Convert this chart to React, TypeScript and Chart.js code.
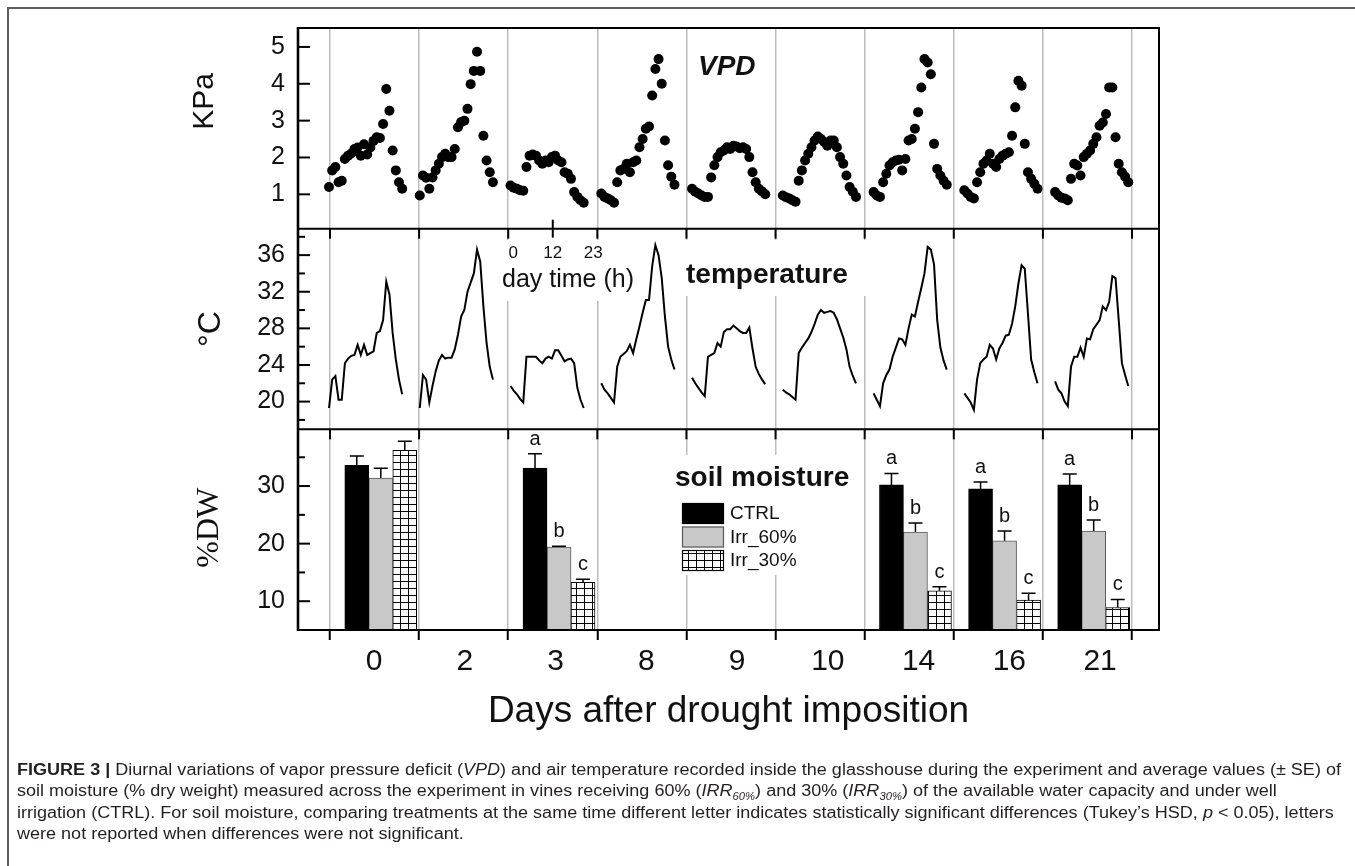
import React, { useEffect, useRef } from 'react';
import { Chart, registerables } from 'chart.js';

Chart.register(...registerables);

// ---------------- data ----------------
const DAY_LABELS = ['0', '2', '3', '8', '9', '10', '14', '16', '21'];

// hourly VPD (kPa), hours 0..23 for each day
const VPD_DAY_0 = [1.2, 1.65, 1.74, 1.33, 1.37, 1.96, 2.05, 2.11, 2.23, 2.27, 2.05, 2.36, 2.08, 2.27, 2.45, 2.55, 2.53, 2.91, 3.86, 3.27, 2.19, 1.65, 1.33, 1.15];
const VPD_DAY_2 = [0.97, 1.51, 1.45, 1.15, 1.46, 1.65, 1.83, 2.01, 2.1, 2.01, 2.01, 2.23, 2.82, 2.96, 3.0, 3.32, 3.99, 4.35, 4.87, 4.35, 2.59, 1.92, 1.6, 1.33];
const VPD_DAY_3 = [1.24, 1.18, 1.15, 1.11, 1.1, 1.74, 2.05, 2.08, 2.05, 1.92, 1.83, 1.92, 1.87, 2.01, 2.05, 1.92, 1.87, 1.6, 1.56, 1.42, 1.06, 0.93, 0.84, 0.77];
const VPD_DAY_8 = [1.02, 0.93, 0.89, 0.84, 0.77, 1.33, 1.65, 1.69, 1.83, 1.6, 1.87, 1.92, 2.28, 2.5, 2.78, 2.84, 3.68, 4.4, 4.67, 4.0, 2.46, 1.79, 1.48, 1.26];
const VPD_DAY_9 = [1.15, 1.07, 1.02, 0.97, 0.93, 0.93, 1.46, 1.79, 2.01, 2.14, 2.19, 2.28, 2.23, 2.32, 2.3, 2.25, 2.28, 2.23, 2.01, 1.6, 1.33, 1.15, 1.08, 1.0];
const VPD_DAY_10 = [0.97, 0.92, 0.89, 0.84, 0.8, 1.37, 1.65, 1.92, 2.1, 2.28, 2.46, 2.57, 2.5, 2.42, 2.32, 2.46, 2.46, 2.28, 2.01, 1.83, 1.51, 1.2, 1.07, 0.93];
const VPD_DAY_14 = [1.06, 0.97, 0.93, 1.33, 1.56, 1.78, 1.87, 1.92, 1.94, 1.65, 1.96, 2.46, 2.5, 2.78, 3.23, 3.9, 4.67, 4.58, 4.26, 2.37, 1.69, 1.51, 1.37, 1.26];
const VPD_DAY_16 = [1.11, 1.02, 0.93, 0.89, 1.33, 1.6, 1.83, 1.92, 2.1, 1.83, 1.74, 1.96, 2.05, 2.1, 2.14, 2.59, 3.36, 4.08, 3.95, 2.37, 1.6, 1.42, 1.29, 1.15];
const VPD_DAY_21 = [1.06, 0.97, 0.91, 0.89, 0.84, 1.42, 1.83, 1.78, 1.51, 2.01, 2.1, 2.19, 2.37, 2.55, 2.86, 2.95, 3.18, 3.9, 3.9, 2.55, 1.83, 1.6, 1.48, 1.33];
const VPD_SERIES = [VPD_DAY_0, VPD_DAY_2, VPD_DAY_3, VPD_DAY_8, VPD_DAY_9, VPD_DAY_10, VPD_DAY_14, VPD_DAY_16, VPD_DAY_21];

// hourly air temperature (°C)
const TEMP_DAY_0 = [19.3, 22.4, 22.8, 20.2, 20.2, 24.2, 24.7, 25.0, 25.1, 26.2, 25.1, 26.2, 25.1, 25.3, 25.5, 27.5, 27.7, 28.9, 33.1, 31.7, 27.5, 24.6, 22.4, 20.8];
const TEMP_DAY_2 = [19.3, 22.9, 22.4, 19.9, 21.7, 23.3, 24.5, 25.1, 24.7, 24.8, 24.8, 25.7, 27.3, 29.3, 30.0, 32.0, 33.0, 34.0, 36.6, 35.3, 30.4, 26.4, 23.8, 22.4];
const TEMP_DAY_3 = [21.7, 21.2, 20.8, 20.3, 19.9, 24.9, 24.9, 24.9, 24.9, 24.5, 24.2, 24.7, 24.9, 24.7, 25.6, 25.6, 25.0, 24.4, 24.6, 24.7, 24.2, 21.5, 20.2, 19.3];
const TEMP_DAY_8 = [22.0, 21.3, 20.9, 20.4, 19.9, 23.8, 24.9, 25.2, 25.5, 26.2, 25.3, 26.8, 28.2, 29.7, 31.1, 31.1, 34.8, 37.1, 36.0, 33.5, 29.3, 26.0, 24.6, 23.5];
const TEMP_DAY_9 = [22.6, 22.0, 21.5, 21.0, 20.6, 24.9, 25.1, 25.3, 26.4, 26.0, 27.6, 27.9, 27.9, 28.3, 28.0, 27.7, 27.5, 27.5, 28.1, 25.8, 23.8, 23.0, 22.4, 21.9];
const TEMP_DAY_10 = [21.3, 21.0, 20.8, 20.5, 20.2, 25.3, 25.9, 26.4, 26.9, 27.6, 28.5, 29.5, 30.0, 29.7, 29.8, 29.9, 29.7, 29.0, 28.0, 27.0, 25.7, 23.8, 22.8, 22.0];
const TEMP_DAY_14 = [20.9, 20.2, 19.5, 22.0, 22.9, 23.5, 24.9, 25.9, 26.9, 26.8, 26.2, 28.0, 29.5, 29.3, 30.9, 32.4, 34.0, 36.9, 36.6, 35.0, 28.9, 25.9, 24.5, 23.5];
const TEMP_DAY_16 = [20.9, 20.4, 19.9, 19.1, 22.4, 24.2, 24.6, 24.9, 26.2, 25.8, 24.6, 25.8, 26.4, 27.2, 27.3, 28.5, 30.4, 32.9, 34.9, 34.5, 29.6, 24.6, 23.2, 22.0];
const TEMP_DAY_21 = [22.2, 21.3, 20.9, 20.0, 19.5, 23.8, 24.9, 24.9, 25.9, 24.9, 26.9, 26.8, 27.9, 28.4, 28.9, 30.4, 30.0, 30.9, 33.7, 33.5, 28.9, 24.2, 22.9, 21.7];
const TEMP_SERIES = [TEMP_DAY_0, TEMP_DAY_2, TEMP_DAY_3, TEMP_DAY_8, TEMP_DAY_9, TEMP_DAY_10, TEMP_DAY_14, TEMP_DAY_16, TEMP_DAY_21];

// soil moisture (% DW), mean and SE, per day (null = not measured)
const SOIL_CTRL = [33.6, null, 33.1, null, null, null, 30.2, 29.5, 30.2];
const SOIL_CTRL_SE = [1.6, null, 2.5, null, null, null, 2.0, 1.2, 1.9];
const SOIL_IRR60 = [31.4, null, 19.4, null, null, null, 22.0, 20.5, 22.2];
const SOIL_IRR60_SE = [1.7, null, 0.15, null, null, null, 1.6, 1.7, 1.9];
const SOIL_IRR30 = [36.2, null, 13.3, null, null, null, 11.8, 10.2, 8.9];
const SOIL_IRR30_SE = [1.6, null, 0.5, null, null, null, 0.7, 1.2, 1.4];
const LETTERS_CTRL = ['', '', 'a', '', '', '', 'a', 'a', 'a'];
const LETTERS_IRR60 = ['', '', 'b', '', '', '', 'b', 'b', 'b'];
const LETTERS_IRR30 = ['', '', 'c', '', '', '', 'c', 'c', 'c'];
const SERIES_NAMES = ['CTRL', 'Irr_60%', 'Irr_30%'];

const VPD_TICKS = [1, 2, 3, 4, 5];
const TEMP_TICKS = [18, 20, 22, 24, 26, 28, 30, 32, 34, 36, 38];
const TEMP_TICK_LABELS = [20, 24, 28, 32, 36];
const SOIL_TICKS = [10, 15, 20, 25, 30, 35];
const SOIL_TICK_LABELS = [10, 20, 30];
const DAY_TIME_LABELS = ['0', '12', '23'];

// ---------------- layout / style constants ----------------
const FONT = 'Arial, "Liberation Sans", Helvetica, sans-serif';
const SERIF = '"Times New Roman", "Liberation Serif", serif';
const X_MIN = -0.359;
const X_MAX = 9.303;
const DATA_START = -0.011;
const DAY_PITCH = 1.0185;
const HOUR_PITCH = 0.0357;
const LABEL_SHIFT = 0.505;
const BAR_GROUP_CENTER = 0.57;
const GRID_POSITIONS = [0, 1, 2, 3, 4, 5, 6, 7, 8, 9];
const labelPos = (d: number) => DATA_START + d * DAY_PITCH + LABEL_SHIFT;

function makePattern(): CanvasPattern | string {
  const c = document.createElement('canvas');
  c.width = 8;
  c.height = 7;
  const g = c.getContext('2d');
  if (!g) return '#fff';
  g.fillStyle = '#fff';
  g.fillRect(0, 0, 8, 7);
  g.fillStyle = '#000';
  g.fillRect(0, 0, 8, 1);
  g.fillRect(0, 0, 1, 7);
  const p = g.createPattern(c, 'repeat');
  return p || '#fff';
}

export default function App() {
  const canvasRef = useRef<HTMLCanvasElement | null>(null);

  useEffect(() => {
    const canvas = canvasRef.current;
    if (!canvas) return;
    const hatch = makePattern();

    const vpdPoints = VPD_SERIES.flatMap((vals, d) =>
      vals.map((v, h) => ({ x: DATA_START + d * DAY_PITCH + h * HOUR_PITCH, y: v }))
    );
    const tempPoints = TEMP_SERIES.flatMap((vals, d) => [
      ...vals.map((v, h) => ({ x: DATA_START + d * DAY_PITCH + h * HOUR_PITCH, y: v as number | null })),
      { x: DATA_START + d * DAY_PITCH + 0.9, y: null },
    ]);
    const bars = (vals: (number | null)[]) =>
      vals
        .map((v, d) => (v == null ? null : { x: d + BAR_GROUP_CENTER, y: v }))
        .filter((p) => p !== null) as { x: number; y: number }[];

    const soilGroups = [
      { values: SOIL_CTRL, se: SOIL_CTRL_SE, letters: LETTERS_CTRL },
      { values: SOIL_IRR60, se: SOIL_IRR60_SE, letters: LETTERS_IRR60 },
      { values: SOIL_IRR30, se: SOIL_IRR30_SE, letters: LETTERS_IRR30 },
    ];
    const fills: (string | CanvasPattern)[] = ['#000000', '#c8c8c8', hatch];
    const borders = ['#000000', '#5a5a5a', '#000000'];

    const decor = {
      id: 'figureDecor',
      beforeDatasetsDraw(chart: any) {
        const { ctx } = chart;
        const x = chart.scales.x;
        ctx.save();
        // white label backgrounds
        ctx.fillStyle = '#ffffff';
        ctx.fillRect(498, 240, 144, 61);
        ctx.fillRect(680, 240, 186, 56);
        ctx.fillRect(672, 455, 190, 120);

        ctx.fillStyle = '#111';
        ctx.textBaseline = 'alphabetic';
        ctx.textAlign = 'left';
        ctx.font = `italic bold 28px ${FONT}`;
        ctx.fillText('VPD', 698, 75);
        ctx.font = `bold 28px ${FONT}`;
        ctx.fillText('temperature', 686, 283);
        ctx.fillText('soil moisture', 675, 486);
        ctx.font = `25px ${FONT}`;
        ctx.fillText('day time (h)', 502, 287);

        // day time (h) key labels
        ctx.font = `17px ${FONT}`;
        ctx.textAlign = 'center';
        const g0 = x.getPixelForValue(2);
        const g1 = x.getPixelForValue(3);
        const gm = x.getPixelForValue(2.5);
        ctx.fillText(DAY_TIME_LABELS[0], g0 + 5, 258);
        ctx.fillText(DAY_TIME_LABELS[1], gm, 258);
        ctx.fillText(DAY_TIME_LABELS[2], g1 - 4, 258);

        // legend
        const lx = 682;
        const rows = [503, 526.5, 550];
        rows.forEach((ry, i) => {
          ctx.fillStyle = fills[i];
          ctx.fillRect(lx, ry, 42, 21);
          ctx.strokeStyle = borders[i];
          ctx.lineWidth = 1.2;
          ctx.strokeRect(lx + 0.5, ry + 0.5, 41, 20);
          ctx.fillStyle = '#111';
          ctx.font = `19px ${FONT}`;
          ctx.textAlign = 'left';
          ctx.textBaseline = 'middle';
          ctx.fillText(SERIES_NAMES[i], 730, ry + 11);
        });
        ctx.restore();
      },
      afterDatasetsDraw(chart: any) {
        const { ctx, chartArea } = chart;
        const x = chart.scales.x;
        const yv = chart.scales.yv;
        const yt = chart.scales.yt;
        const ys = chart.scales.ys;
        ctx.save();

        // error bars + letters
        soilGroups.forEach((grp, si) => {
          const meta = chart.getDatasetMeta(2 + si);
          let k = 0;
          grp.values.forEach((v, d) => {
            if (v == null) return;
            const bar = meta.data[k++];
            if (!bar) return;
            const top = ys.getPixelForValue(v + (grp.se[d] || 0));
            ctx.strokeStyle = '#000';
            ctx.lineWidth = 1.5;
            ctx.beginPath();
            ctx.moveTo(bar.x, bar.y);
            ctx.lineTo(bar.x, top);
            ctx.moveTo(bar.x - 7, top);
            ctx.lineTo(bar.x + 7, top);
            ctx.stroke();
            const letter = grp.letters[d];
            if (letter) {
              ctx.fillStyle = '#111';
              ctx.font = `20px ${FONT}`;
              ctx.textAlign = 'center';
              ctx.textBaseline = 'alphabetic';
              ctx.fillText(letter, bar.x, top - 9);
            }
          });
        });

        // panel frames
        ctx.strokeStyle = '#000';
        ctx.lineWidth = 2;
        ctx.strokeRect(chartArea.left, chartArea.top, chartArea.right - chartArea.left, chartArea.bottom - chartArea.top);
        ctx.lineWidth = 2.6;
        ctx.beginPath();
        ctx.moveTo(chartArea.left, chartArea.top - 1);
        ctx.lineTo(chartArea.left, chartArea.bottom + 1);
        ctx.stroke();
        ctx.lineWidth = 2;
        ctx.beginPath();
        ctx.moveTo(chartArea.left, yt.top);
        ctx.lineTo(chartArea.right, yt.top);
        ctx.moveTo(chartArea.left, ys.top);
        ctx.lineTo(chartArea.right, ys.top);
        ctx.stroke();

        // inward y ticks
        const yTicks = (scale: any, major: (v: number) => boolean) => {
          scale.ticks.forEach((t: any) => {
            const py = scale.getPixelForValue(t.value);
            const len = major(t.value) ? 12 : 7;
            ctx.beginPath();
            ctx.moveTo(chartArea.left, py);
            ctx.lineTo(chartArea.left + len, py);
            ctx.stroke();
          });
        };
        ctx.lineWidth = 2;
        yTicks(yv, () => true);
        yTicks(yt, (v) => TEMP_TICK_LABELS.includes(v));
        yTicks(ys, (v) => SOIL_TICK_LABELS.includes(v));

        // top-of-panel x ticks (temperature and soil panels)
        GRID_POSITIONS.forEach((g) => {
          const px = x.getPixelForValue(g);
          [yt.top, ys.top].forEach((ty: number) => {
            ctx.beginPath();
            ctx.moveTo(px, ty);
            ctx.lineTo(px, ty + 10);
            ctx.stroke();
          });
        });
        // mid-day tick for the "day time (h)" key
        const pm = x.getPixelForValue(2.5);
        ctx.beginPath();
        ctx.moveTo(pm, yv.bottom - 9);
        ctx.lineTo(pm, yt.top + 9);
        ctx.stroke();

        // y axis titles
        const vTitle = (text: string, cx: number, cy: number, font: string) => {
          ctx.save();
          ctx.translate(cx, cy);
          ctx.rotate(-Math.PI / 2);
          ctx.font = font;
          ctx.fillStyle = '#111';
          ctx.textAlign = 'center';
          ctx.textBaseline = 'middle';
          ctx.fillText(text, 0, 0);
          ctx.restore();
        };
        vTitle('KPa', 205, (yv.top + yv.bottom) / 2 - 27, `30px ${FONT}`);
        vTitle('°C', 211, (yt.top + yt.bottom) / 2, `32px ${FONT}`);
        vTitle('%DW', 210, (ys.top + ys.bottom) / 2 - 2, `32px ${SERIF}`);

        ctx.restore();
      },
    };

    const yCommon = (min: number, max: number, ticks: number[], labels: number[] | null) => ({
      type: 'linear' as const,
      position: 'left' as const,
      stack: 'panels',
      stackWeight: 1,
      min,
      max,
      afterBuildTicks: (s: any) => {
        s.ticks = ticks.map((v) => ({ value: v }));
      },
      afterFit: (s: any) => {
        s.width = 298;
      },
      grid: { display: false, drawTicks: false },
      border: { display: false },
      ticks: {
        padding: 13,
        color: '#111',
        font: { family: FONT, size: 25 },
        autoSkip: false,
        callback: (v: any) => (labels === null || labels.includes(Number(v)) ? String(v) : ''),
      },
    });

    const xTicks = [
      ...GRID_POSITIONS.map((g) => ({ value: g })),
      ...DAY_LABELS.map((_, d) => ({ value: labelPos(d) })),
    ].sort((a, b) => a.value - b.value);
    const isGrid = (v: number) => GRID_POSITIONS.some((g) => Math.abs(g - v) < 1e-6);

    const chart = new Chart(canvas, {
      type: 'bar',
      data: {
        datasets: [
          {
            type: 'scatter',
            label: 'VPD',
            data: vpdPoints,
            xAxisID: 'x',
            yAxisID: 'yv',
            pointRadius: 5,
            pointBackgroundColor: '#000',
            pointBorderColor: '#000',
            pointBorderWidth: 0,
            showLine: false,
          } as any,
          {
            type: 'line',
            label: 'temperature',
            data: tempPoints,
            xAxisID: 'x',
            yAxisID: 'yt',
            borderColor: '#000',
            borderWidth: 2,
            pointRadius: 0,
            spanGaps: false,
            tension: 0,
            fill: false,
          } as any,
          ...soilGroups.map((grp, i) => ({
            type: 'bar',
            label: SERIES_NAMES[i],
            data: bars(grp.values),
            xAxisID: 'x',
            yAxisID: 'ys',
            backgroundColor: fills[i],
            borderColor: borders[i],
            borderWidth: 1,
            borderSkipped: 'start',
            barThickness: 24,
          })) as any,
        ],
      },
      options: {
        responsive: false,
        devicePixelRatio: 1,
        animation: false,
        events: [],
        layout: { padding: { left: 0, top: 27, right: 196, bottom: 0 } },
        plugins: { legend: { display: false }, tooltip: { enabled: false }, title: { display: false } },
        scales: {
          x: {
            type: 'linear',
            position: 'bottom',
            min: X_MIN,
            max: X_MAX,
            offset: false,
            afterBuildTicks: (s: any) => {
              s.ticks = xTicks.map((t) => ({ value: t.value }));
            },
            afterFit: (s: any) => {
              s.height = 130;
            },
            grid: {
              offset: false,
              drawOnChartArea: true,
              drawTicks: true,
              tickLength: 10,
              lineWidth: 1.5,
              tickWidth: 2,
              color: (c: any) => (c.tick && isGrid(c.tick.value) ? '#bdbdbd' : 'rgba(0,0,0,0)'),
              tickColor: (c: any) => (c.tick && isGrid(c.tick.value) ? '#000' : 'rgba(0,0,0,0)'),
            },
            border: { display: false },
            ticks: {
              autoSkip: false,
              maxRotation: 0,
              minRotation: 0,
              padding: 4,
              color: '#111',
              font: { family: FONT, size: 30 },
              callback: (v: any) => {
                const k = DAY_LABELS.findIndex((_, d) => Math.abs(labelPos(d) - Number(v)) < 1e-6);
                return k >= 0 ? DAY_LABELS[k] : '';
              },
            },
            title: {
              display: true,
              text: 'Days after drought imposition',
              color: '#111',
              font: { family: FONT, size: 37 },
              padding: { top: 0, bottom: 26 },
            },
          },
          // stacked panels: first defined is drawn at the bottom
          ys: yCommon(5, 39.85, SOIL_TICKS, SOIL_TICK_LABELS),
          yt: yCommon(16.97, 38.89, TEMP_TICKS, TEMP_TICK_LABELS),
          yv: yCommon(0.068, 5.514, VPD_TICKS, null),
        } as any,
      },
      plugins: [decor],
    } as any);

    return () => {
      chart.destroy();
    };
  }, []);

  return (
    <div style={{ position: 'fixed', left: 0, top: 0, width: '100vw', height: '100vh', overflow: 'hidden', background: '#fff' }}>
      <div
        style={{
          position: 'absolute',
          left: 7,
          top: 7,
          width: 1400,
          height: 900,
          border: '2px solid #5e5e5e',
          boxSizing: 'border-box',
        }}
      />
      <canvas ref={canvasRef} width={1355} height={760} style={{ position: 'absolute', left: 0, top: 0, display: 'block' }} />
      <div
        style={{
          position: 'absolute',
          left: 17,
          top: 759,
          fontFamily: FONT,
          fontSize: 16,
          lineHeight: '21.3px',
          color: '#231f20',
          whiteSpace: 'nowrap',
          transform: 'scaleX(1.127)',
          transformOrigin: '0 0',
        }}
      >
        <div>
          <b>FIGURE 3 |</b> Diurnal variations of vapor pressure deficit (<i>VPD</i>) and air temperature recorded inside the glasshouse during the experiment and average values (± SE) of
        </div>
        <div>
          soil moisture (% dry weight) measured across the experiment in vines receiving 60% (<i>IRR</i>
          <sub style={{ fontSize: 10, lineHeight: 0 }}><i>60%</i></sub>) and 30% (<i>IRR</i>
          <sub style={{ fontSize: 10, lineHeight: 0 }}><i>30%</i></sub>) of the available water capacity and under well
        </div>
        <div>
          irrigation (CTRL). For soil moisture, comparing treatments at the same time different letter indicates statistically significant differences (Tukey’s HSD, <i>p</i> &lt; 0.05), letters
        </div>
        <div>were not reported when differences were not significant.</div>
      </div>
    </div>
  );
}
